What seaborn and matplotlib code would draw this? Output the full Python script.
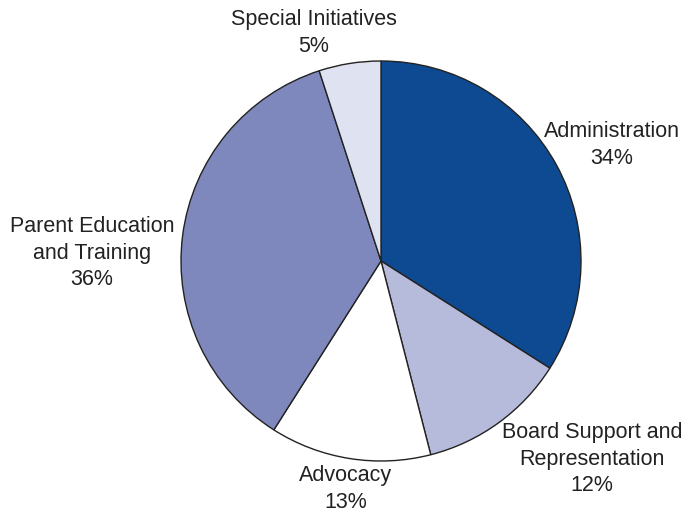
import matplotlib
matplotlib.use("Agg")
import matplotlib.pyplot as plt
import seaborn as sns

# data, clockwise from 12 o'clock
categories = ["Administration", "Board Support and\nRepresentation", "Advocacy",
              "Parent Education\nand Training", "Special Initiatives"]
shares = [34, 12, 13, 36, 5]
colors = ["#0d4a92", "#b7bbdb", "#ffffff", "#7f88bd", "#dfe2f0"]

sns.set_theme(style="white")
plt.rcParams["font.family"] = ["Liberation Sans", "DejaVu Sans"]

fig = plt.figure(figsize=(6.87, 5.15), dpi=100)
ax = fig.add_axes([0, 0, 1, 1])

ax.pie(shares, colors=colors, startangle=90, counterclock=False, radius=1,
       wedgeprops=dict(edgecolor="#222222", linewidth=1.0))

# label spots (data units, pie radius = 1)
label_pos = [(1.155, 0.58), (1.055, -0.99), (-0.175, -1.14),
             (-1.445, 0.04), (-0.335, 1.14)]
for name, val, (x, y) in zip(categories, shares, label_pos):
    ax.text(x, y, f"{name}\n{val}%", ha="center", va="center",
            fontsize=15.5, color="#222222", linespacing=1.37)

ax.set_xlim(-1.905, 1.53)
ax.set_ylim(-1.27, 1.305)
ax.set_aspect("equal")
ax.axis("off")

plt.savefig("out.png", dpi=100)
